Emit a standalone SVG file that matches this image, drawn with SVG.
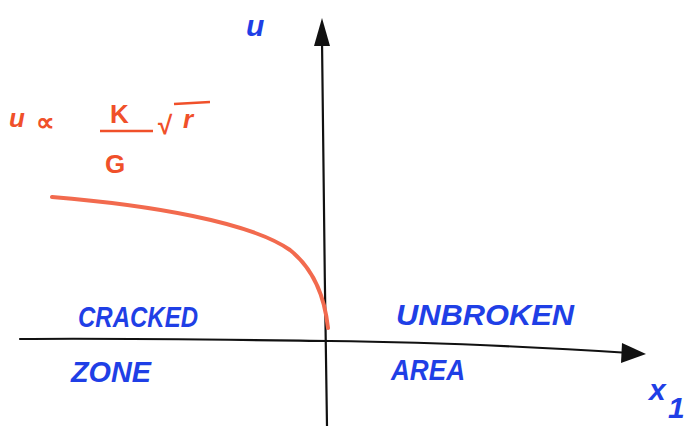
<svg xmlns="http://www.w3.org/2000/svg" width="684" height="426" viewBox="0 0 684 426">
<style>
.ax{fill:none;stroke:#111;stroke-width:2.2;stroke-linecap:round}
.lbl{font-family:"Liberation Sans",Arial,sans-serif;font-style:italic;fill:#1f3fe6;font-size:30px;font-weight:bold}
.red{font-family:"Liberation Sans",Arial,sans-serif;fill:#f0502a;font-size:26px;font-weight:bold}
</style>
<rect width="684" height="426" fill="#fff"/>
<g id="axes">
<path class="ax" d="M20,339 C120,338 250,340 330,341 C430,342 520,346 630,353"/>
<path d="M622,343 L646,354 L621,363 Z" fill="#111"/>
<path class="ax" d="M322,40 C323,150 325,300 327,426"/>
<path d="M322,18 L314,46 L330,46 Z" fill="#111"/>
</g>
<g id="curve">
<path d="M52,197 C150,205 250,222 290,250 C315,270 325,300 328,328" fill="none" stroke="#f26a4e" stroke-width="4" stroke-linecap="round"/>
</g>
<g id="formula">
<text class="red" x="9" y="127" font-size="36" font-style="italic">u</text>
<text class="red" x="36" y="131" font-size="48">∝</text>
<text class="red" x="110" y="123" font-size="25">K</text>
<path d="M100,131 L153,131" stroke="#f0502a" stroke-width="2.5"/>
<text class="red" x="105" y="173" font-size="36">G</text>
<text class="red" x="158" y="134" font-size="30">√</text>
<text class="red" x="183" y="128" font-size="28" font-style="italic">r</text>
<path d="M174,104 L210,102" stroke="#f0502a" stroke-width="2.5"/>
</g>
<g id="labels">
<text class="lbl" x="246" y="36" font-size="38">u</text>
<text class="lbl" x="78" y="327" textLength="120" lengthAdjust="spacingAndGlyphs">CRACKED</text>
<text class="lbl" x="71" y="382" textLength="80" lengthAdjust="spacingAndGlyphs">ZONE</text>
<text class="lbl" x="396" y="325" font-size="33" textLength="178" lengthAdjust="spacingAndGlyphs">UNBROKEN</text>
<text class="lbl" x="391" y="380" textLength="74" lengthAdjust="spacingAndGlyphs">AREA</text>
<text class="lbl" x="649" y="400" font-size="36">x</text>
<text class="lbl" x="668" y="418" font-size="22" font-style="normal">1</text>
</g>
</svg>
